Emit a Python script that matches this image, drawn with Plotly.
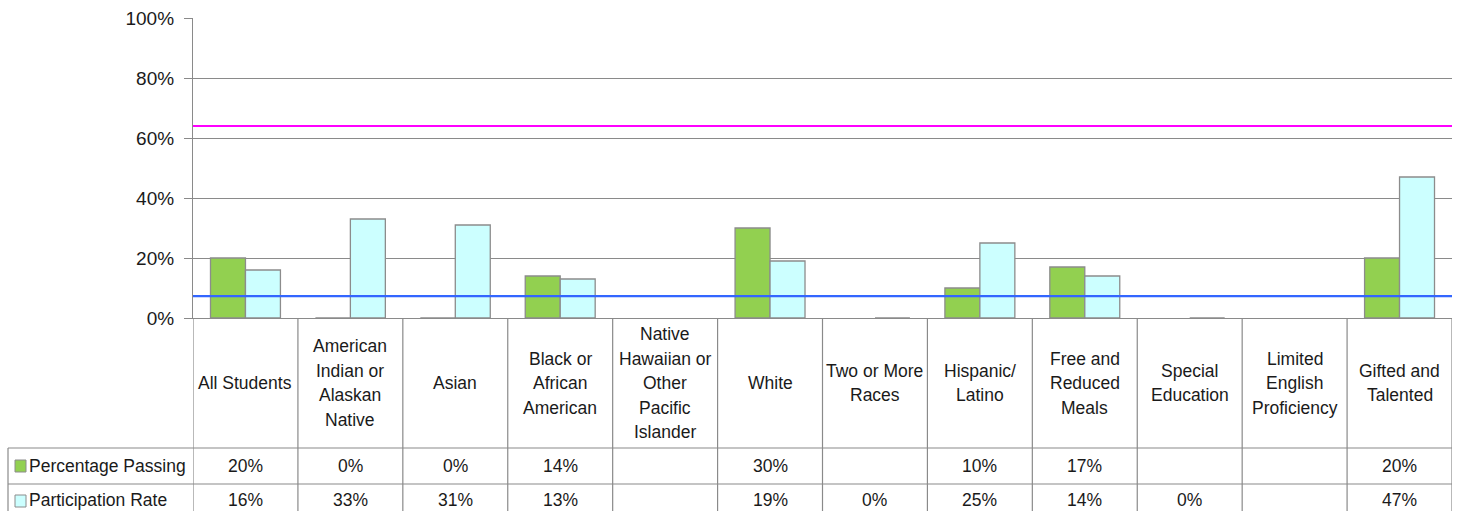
import plotly.graph_objects as go

categories = ["All Students", "American<br>Indian or<br>Alaskan<br>Native", "Asian",
              "Black or<br>African<br>American",
              "Native<br>Hawaiian or<br>Other<br>Pacific<br>Islander", "White",
              "Two or More<br>Races", "Hispanic/<br>Latino", "Free and<br>Reduced<br>Meals",
              "Special<br>Education", "Limited<br>English<br>Proficiency", "Gifted and<br>Talented"]
passing = [20, 0, 0, 14, None, 30, None, 10, 17, None, None, 20]
participation = [16, 33, 31, 13, None, 19, 0, 25, 14, 0, None, 47]
series_names = ["Percentage Passing", "Participation Rate"]
target_passing = 64
target_participation = 7.3
y_ticks = [0, 20, 40, 60, 80, 100]
y_tick_text = [f"{t}%" for t in y_ticks]

GREEN = "#92D050"
CYAN = "#CCFFFF"
EDGE = "#8C8C8C"
GRID = "#8A8A8A"
TXT = "#1a1a1a"
FONT = "Liberation Sans, Arial, sans-serif"
TFS = 17.5

W, H = 1459, 511
ML, MR, MT, MB = 193, 7, 18, 193
PW, PH = W - ML - MR, H - MT - MB

def py(pix):  # pixel y -> paper y
    return (H - MB - pix) / PH

def px(pix):  # pixel x -> paper x
    return (pix - ML) / PW

n = len(categories)
xs = list(range(n))

fig = go.Figure()
fig.add_bar(x=xs, y=passing, name=series_names[0],
            marker=dict(color=GREEN, line=dict(color=EDGE, width=1.3)))
fig.add_bar(x=xs, y=participation, name=series_names[1],
            marker=dict(color=CYAN, line=dict(color=EDGE, width=1.3)))

shapes = []
shapes.append(dict(type="line", xref="paper", yref="y", x0=0, x1=1,
                   y0=target_passing, y1=target_passing, line=dict(color="#FF00FF", width=2.2)))
shapes.append(dict(type="line", xref="paper", yref="y", x0=0, x1=1,
                   y0=target_participation, y1=target_participation, line=dict(color="#3366FF", width=2.2)))

bottom = py(H + 5)
for i in range(n + 1):
    shapes.append(dict(type="line", xref="x", yref="paper", x0=i - 0.5, x1=i - 0.5,
                       y0=0, y1=bottom, line=dict(color=GRID, width=1.2), layer="above"))
for ypix in (448, 484):
    shapes.append(dict(type="line", xref="paper", yref="paper", x0=px(8), x1=1,
                       y0=py(ypix), y1=py(ypix), line=dict(color=GRID, width=1.2)))
shapes.append(dict(type="line", xref="paper", yref="paper", x0=px(8), x1=px(8),
                   y0=py(448), y1=bottom, line=dict(color=GRID, width=1.2)))
for ycen, col in ((466, GREEN), (501, CYAN)):
    shapes.append(dict(type="rect", xref="paper", yref="paper", x0=px(15), x1=px(26),
                       y0=py(ycen - 6), y1=py(ycen + 6), fillcolor=col,
                       line=dict(color=EDGE, width=1)))

annotations = []
LS = 24.5
for i, lab in enumerate(categories):
    lines = lab.split("<br>")
    k = len(lines)
    for j, ln in enumerate(lines):
        ycen = 383 + (j - (k - 1) / 2) * LS
        annotations.append(dict(x=i, xref="x", y=py(ycen), yref="paper", text=ln,
                                showarrow=False, xanchor="center", yanchor="middle",
                                font=dict(size=TFS, color=TXT, family=FONT)))
for row, (vals, ycen) in enumerate(((passing, 466), (participation, 500))):
    annotations.append(dict(x=px(27), xref="paper", y=py(ycen), yref="paper",
                            text=series_names[row], showarrow=False, xanchor="left",
                            yanchor="middle", font=dict(size=TFS, color=TXT, family=FONT)))
    for i, v in enumerate(vals):
        if v is None:
            continue
        annotations.append(dict(x=i, xref="x", y=py(ycen), yref="paper", text=f"{v}%",
                                showarrow=False, xanchor="center", yanchor="middle",
                                font=dict(size=TFS, color=TXT, family=FONT)))

fig.update_layout(
    width=W, height=H, autosize=False,
    margin=dict(l=ML, r=MR, t=MT, b=MB),
    paper_bgcolor="white", plot_bgcolor="white",
    barmode="group", bargap=1/3, bargroupgap=0,
    showlegend=False,
    shapes=shapes, annotations=annotations,
    font=dict(family=FONT, color=TXT),
    xaxis=dict(range=[-0.5, n - 0.5], showticklabels=False, showgrid=False, zeroline=False,
               showline=True, linecolor=GRID, linewidth=1.2, ticks=""),
    yaxis=dict(range=[0, 100], tickmode="array", tickvals=y_ticks, ticktext=y_tick_text,
               showgrid=True, gridcolor=GRID, gridwidth=1.2, zeroline=False, showline=True,
               linecolor=GRID, linewidth=1.2, ticks="outside", ticklen=8, tickcolor=GRID,
               tickwidth=1.2, tickfont=dict(size=19, color=TXT, family=FONT),
               ticklabelstandoff=6),
)

fig.write_html("out.html", config={"displayModeBar": False},
               post_script="document.body.style.margin='0';document.body.style.overflow='hidden';")
